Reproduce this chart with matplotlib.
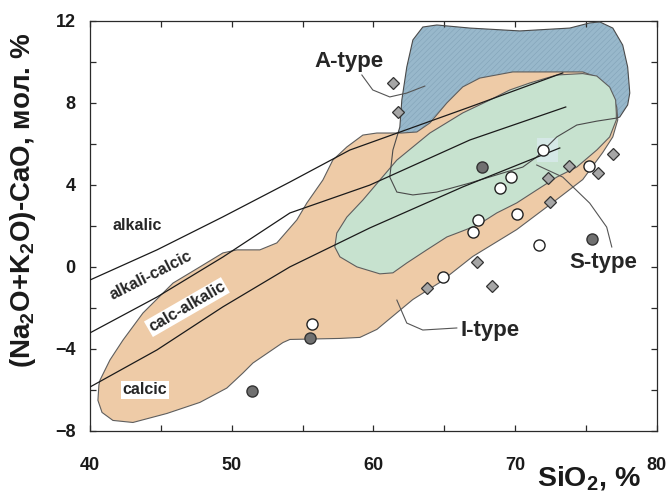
import matplotlib
matplotlib.use("Agg")
import matplotlib.pyplot as plt
from matplotlib.patches import Polygon, Rectangle
from matplotlib.ticker import MultipleLocator

plt.rcParams['font.family'] = ['Liberation Sans', 'DejaVu Sans']
plt.rcParams['font.weight'] = 'bold'
plt.rcParams['mathtext.fontset'] = 'custom'
plt.rcParams['mathtext.rm'] = 'Liberation Sans:bold'
plt.rcParams['mathtext.it'] = 'Liberation Sans:bold'
plt.rcParams['mathtext.bf'] = 'Liberation Sans:bold'
plt.rcParams['hatch.linewidth'] = 0.4

# ---- granite fields (SiO2, MALI) ----
i_type_x = [40.63, 40.71, 41.41, 42.33, 43.74, 45.86, 47.76, 49.38, 50.37, 51.99, 53.19,
            54.60, 55.31, 56.44, 57.14, 58.13, 59.26, 60.25, 62.01, 63.07, 63.99, 65.19,
            66.31, 67.51, 69.84, 73.37, 74.78, 75.77, 76.68, 77.18, 77.25, 76.90, 76.19,
            74.78, 72.95, 70.12, 67.02, 64.69, 62.79, 60.25, 59.05, 57.64, 54.11, 53.62,
            51.50, 50.79, 49.66, 47.76, 45.43, 43.03, 41.62, 40.85, 40.56]
i_type_y = [-5.77, -5.53, -4.55, -3.58, -2.26, -0.80, -0.01, 0.67, 0.82, 0.82, 1.16,
            2.28, 3.11, 4.23, 5.20, 5.84, 6.42, 6.52, 6.52, 6.57, 7.01, 7.99,
            8.77, 9.20, 9.50, 9.50, 9.50, 9.25, 8.62, 7.79, 7.16, 6.33, 5.57,
            4.25, 3.28, 1.81, 0.50, -0.77, -1.60, -3.06, -3.45, -3.50, -3.55, -3.70,
            -4.70, -5.19, -5.92, -6.62, -7.16, -7.60, -7.50, -7.11, -6.52]

s_type_x = [57.28, 57.42, 58.13, 59.26, 61.66, 63.99, 66.31, 68.22, 69.63, 71.04, 72.95,
            74.78, 75.77, 76.68, 77.10, 77.15, 77.15, 76.68, 75.77, 74.36, 72.95, 71.53,
            70.12, 68.71, 67.37, 66.10, 65.19, 63.77, 62.36, 61.38, 60.46, 58.84, 57.64]
s_type_y = [0.96, 1.64, 2.42, 3.25, 5.20, 6.52, 7.50, 8.13, 8.62, 8.96, 9.35,
            9.42, 9.30, 8.76, 8.13, 7.50, 7.16, 6.33, 5.69, 4.86, 4.37, 3.74,
            3.11, 2.62, 2.03, 1.69, 1.45, 0.82, 0.18, -0.30, -0.35, -0.01, 0.48]

a_type_x = [62.79, 63.49, 64.48, 66.81, 70.34, 73.86, 75.27, 75.98, 76.90, 77.60, 77.95,
            78.10, 77.95, 77.39, 77.18, 75.77, 74.36, 72.95, 72.24, 71.53, 70.55, 69.14,
            66.81, 64.48, 62.79, 61.66, 61.16, 61.38, 61.87, 62.01, 62.36]
a_type_y = [11.06, 11.69, 11.79, 11.64, 11.50, 11.64, 11.89, 11.94, 11.64, 10.81, 9.74,
            8.47, 7.89, 7.30, 7.25, 7.10, 6.91, 6.33, 5.84, 5.35, 4.86, 4.57,
            4.08, 3.64, 3.50, 3.64, 4.37, 5.69, 6.81, 8.13, 9.74]

# ---- MALI boundaries ----
alk_x = [40.00, 44.73, 49.38, 54.11, 58.34, 66.81, 73.37]
alk_y = [-0.65, 0.82, 2.43, 4.13, 5.69, 7.79, 9.45]
alc_x = [40.00, 44.73, 49.38, 54.11, 59.75, 66.81, 73.58]
alc_y = [-3.23, -1.48, 0.47, 2.62, 3.98, 6.18, 7.79]
cac_x = [40.00, 44.73, 49.38, 54.11, 59.75, 66.31, 73.16]
cac_y = [-5.87, -4.06, -1.96, -0.01, 1.89, 3.89, 5.79]

# ---- samples ----
diam_x = [61.38, 61.73, 72.31, 73.79, 75.84, 76.90, 72.45, 67.30, 63.77, 68.36]
diam_y = [8.96, 7.55, 4.33, 4.91, 4.57, 5.50, 3.16, 0.23, -1.04, -0.94]
open_x = [71.96, 69.70, 68.92, 75.20, 70.12, 67.37, 67.02, 71.68, 64.90, 55.66]
open_y = [5.69, 4.38, 3.84, 4.91, 2.57, 2.28, 1.69, 1.06, -0.50, -2.80]
dark_x = [67.65, 75.41, 55.52, 51.43]
dark_y = [4.86, 1.35, -3.48, -6.06]

# ---- label leaders ----
lead_a_x = [59.19, 59.96, 61.16, 62.36, 63.63]
lead_a_y = [9.35, 8.62, 8.28, 8.47, 8.81]
lead_s_x = [71.53, 73.37, 75.27, 76.47, 76.83]
lead_s_y = [4.96, 4.37, 3.10, 1.93, 0.96]
lead_i_x = [61.66, 62.36, 63.49, 65.89]
lead_i_y = [-1.63, -2.75, -3.09, -2.99]

fig = plt.figure(figsize=(6.71, 4.96), dpi=100)
ax = fig.add_axes([0.1341, 0.1317, 0.8446, 0.8266])
ax.set_xlim(40, 80)
ax.set_ylim(-8, 12)

# A-type field (hatched), partly hidden under the other fields
ax.add_patch(Polygon(list(zip(a_type_x, a_type_y)), closed=True, facecolor='#98b8cb',
                     edgecolor='#82a3b8', linewidth=0, hatch='//////', zorder=1))
ax.add_patch(Polygon(list(zip(i_type_x, i_type_y)), closed=True, facecolor='#eecba7',
                     edgecolor='#5e5e5e', linewidth=0.8, zorder=2))
ax.add_patch(Polygon(list(zip(s_type_x, s_type_y)), closed=True, facecolor='#c7e2cf',
                     edgecolor='#5e5e5e', linewidth=0.8, zorder=3))
ax.add_patch(Rectangle((71.53, 5.11), 1.49, 1.17, facecolor='#d5e8e6', edgecolor='none',
                       zorder=3.5))
ax.add_patch(Polygon(list(zip(a_type_x, a_type_y)), closed=True, facecolor='none',
                     edgecolor='#4a4a4a', linewidth=0.8, zorder=4))

for xs, ys in [(alk_x, alk_y), (alc_x, alc_y), (cac_x, cac_y)]:
    ax.plot(xs, ys, color='#1a1a1a', linewidth=0.9, zorder=4.5)

for xs, ys in [(lead_a_x, lead_a_y), (lead_s_x, lead_s_y), (lead_i_x, lead_i_y)]:
    ax.plot(xs, ys, color='#555555', linewidth=0.8, zorder=4.5)

txt = dict(color='#262626', fontweight='bold', ha='center', va='center', zorder=5)
ax.text(43.32, 2.03, 'alkalic', fontsize=11.5, **txt)
ax.text(44.30, -0.45, 'alkali-calcic', fontsize=11.5, rotation=27, **txt)
ax.text(46.84, -1.97, 'calc-alkalic', fontsize=11.5, rotation=30,
        bbox=dict(facecolor='white', edgecolor='none', pad=1.0), **txt)
ax.text(43.88, -6.01, 'calcic', fontsize=11.5,
        bbox=dict(facecolor='white', edgecolor='none', pad=1.0), **txt)
ax.text(58.27, 9.99, 'A-type', fontsize=16, **txt)
ax.text(76.26, 0.18, 'S-type', fontsize=16, **txt)
ax.text(68.22, -3.09, 'I-type', fontsize=16, **txt)

ax.plot(diam_x, diam_y, linestyle='none', marker='D', markersize=6.5,
        markerfacecolor='#a6a6a6', markeredgecolor='#333333', markeredgewidth=0.9, zorder=6)
ax.plot(open_x, open_y, linestyle='none', marker='o', markersize=8,
        markerfacecolor='white', markeredgecolor='#222222', markeredgewidth=1.0, zorder=6)
ax.plot(dark_x, dark_y, linestyle='none', marker='o', markersize=8,
        markerfacecolor='#707070', markeredgecolor='#333333', markeredgewidth=1.0, zorder=6)

# axes styling
for s in ax.spines.values():
    s.set_color('#2a2a2a')
    s.set_linewidth(0.9)
ax.xaxis.set_major_locator(MultipleLocator(10))
ax.xaxis.set_minor_locator(MultipleLocator(5))
ax.yaxis.set_major_locator(MultipleLocator(4))
ax.yaxis.set_minor_locator(MultipleLocator(2))
ax.tick_params(which='both', direction='in', top=True, right=True, length=4.3,
               width=0.9, color='#2a2a2a')
ax.tick_params(axis='x', which='major', pad=19, labelsize=13)
ax.tick_params(axis='y', which='major', pad=10.5, labelsize=13)
for lab in ax.get_xticklabels() + ax.get_yticklabels():
    lab.set_fontweight('bold')
    lab.set_color('#1a1a1a')

fig.text(23 / 671, 1 - 200 / 496, r'(Na$_2$O+K$_2$O)-CaO, мол. %', rotation=90,
         ha='center', va='center', fontsize=20, fontweight='bold', color='#1a1a1a')
fig.text(537 / 671, 1 - 486 / 496, r'SiO$_2$, %', ha='left', va='baseline',
         fontsize=20.5, fontweight='bold', color='#1a1a1a')

fig.savefig('out.png', dpi=100)
